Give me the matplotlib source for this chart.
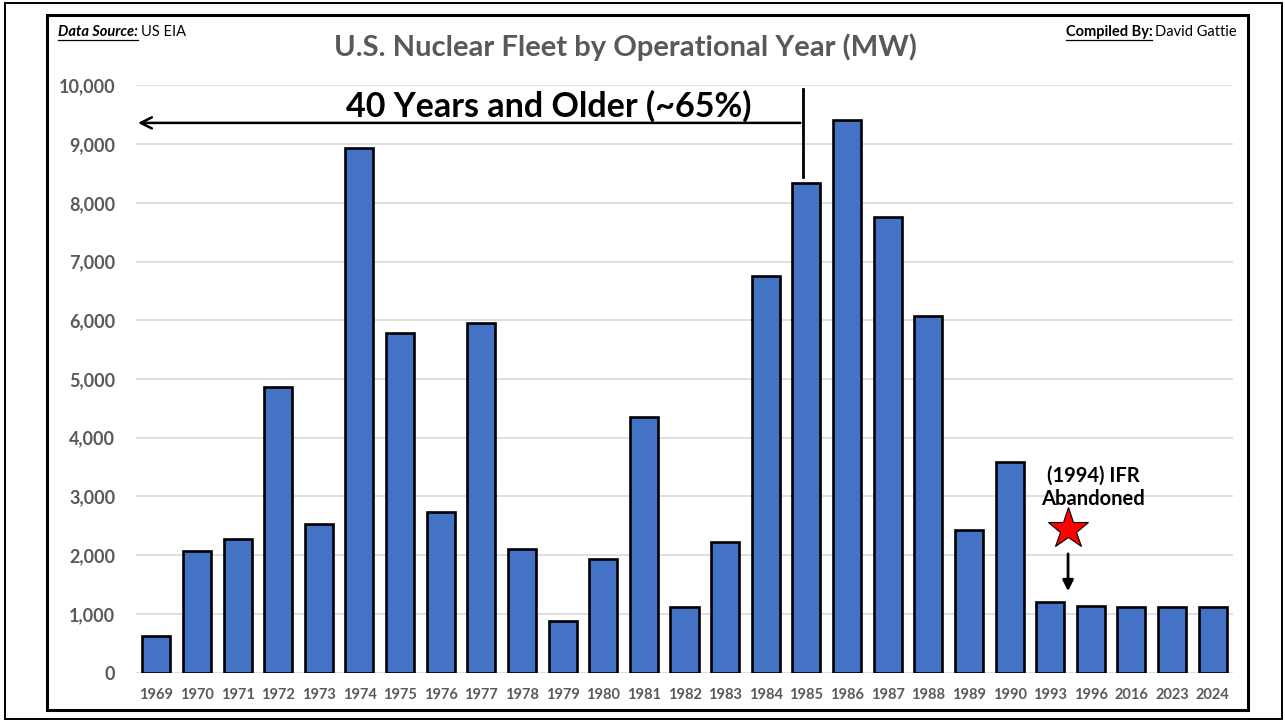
import matplotlib
matplotlib.use("Agg")
import matplotlib.pyplot as plt
from matplotlib.patches import Rectangle
from matplotlib.lines import Line2D
from matplotlib.ticker import FuncFormatter, MultipleLocator

# ---------------- data (MW entering operation per year) ----------------
years = ['1969', '1970', '1971', '1972', '1973', '1974', '1975', '1976', '1977',
         '1978', '1979', '1980', '1981', '1982', '1983', '1984', '1985', '1986',
         '1987', '1988', '1989', '1990', '1993', '1996', '2016', '2023', '2024']
capacity_mw = [625, 2080, 2270, 4860, 2540, 8930, 5780, 2740, 5960,
               2110, 880, 1940, 4350, 1120, 2230, 6750, 8340, 9410,
               7760, 6080, 2430, 3580, 1200, 1130, 1120, 1115, 1115]

title = "U.S. Nuclear Fleet by Operational Year (MW)"
older_label = "40 Years and Older (~65%)"
ifr_label = "(1994) IFR\nAbandoned"

W, H = 1285, 721
FONT = ['Lato', 'DejaVu Sans']
GRAY = '#595959'
BLUE = '#4472C4'

plt.rcParams['font.family'] = FONT

fig = plt.figure(figsize=(W / 100, H / 100), dpi=100)


def fx(px):
    return px / W


def fy(py):
    return 1 - py / H


# plot area in pixel terms
left, right, top, bottom = 136, 1233, 85.3, 672.7
ax = fig.add_axes([fx(left), fy(bottom), fx(right - left), (bottom - top) / H])

x = list(range(len(years)))
ax.bar(x, capacity_mw, width=0.69, color=BLUE, edgecolor='black', linewidth=1.9, zorder=3)

ax.set_xlim(-0.5, len(years) - 0.5)
ax.set_ylim(0, 10000)
ax.yaxis.set_major_locator(MultipleLocator(1000))
ax.yaxis.set_major_formatter(FuncFormatter(lambda v, p: f"{int(v):,}"))
ax.grid(axis='y', color='#D9D9D9', linewidth=1.2, zorder=0)
ax.set_xticks(x)
ax.set_xticklabels(years)
for s in ax.spines.values():
    s.set_visible(False)
ax.tick_params(axis='both', length=0)
ax.tick_params(axis='y', pad=15, labelsize=13, labelcolor=GRAY)
ax.tick_params(axis='x', pad=11, labelsize=10.5, labelcolor=GRAY)
for lab in ax.get_xticklabels() + ax.get_yticklabels():
    lab.set_fontweight('bold')

# 40-year bracket: vertical marker at 1985 and arrow pointing left
ax.plot([15.92, 15.92], [8440, 9940], color='black', lw=2, clip_on=False, zorder=4)
ax.annotate('', xy=(-0.52, 9360), xytext=(15.92, 9360),
            arrowprops=dict(arrowstyle='->', color='black', lw=1.8, mutation_scale=20),
            annotation_clip=False, zorder=4)
ax.text(9.65, 9650, older_label, ha='center', va='center', fontsize=24.5,
        fontweight='bold', color='black', zorder=5)

# IFR note
ax.text(23.06, 3160, ifr_label, ha='center', va='center', fontsize=14.5,
        fontweight='bold', color='black', linespacing=1.2, zorder=5)
ax.plot([22.44], [2440], marker='*', markersize=31, color='red',
        markeredgecolor='black', markeredgewidth=0.8, clip_on=False, zorder=5)
ax.annotate('', xy=(22.44, 1340), xytext=(22.44, 2070),
            arrowprops=dict(arrowstyle='-|>', color='black', lw=2, mutation_scale=16),
            zorder=5)

# title
fig.text(fx(625), fy(47), title, ha='center', va='center', fontsize=21,
         fontweight='bold', color=GRAY)

# frames
fig.add_artist(Rectangle((fx(47), fy(710)), fx(1248 - 47), (710 - 15) / H,
                         transform=fig.transFigure, fill=False, ec='black', lw=2.2))
fig.add_artist(Rectangle((fx(5), fy(719)), fx(1282 - 5), (719 - 3) / H,
                         transform=fig.transFigure, fill=False, ec='black', lw=1.4))

# corner credits with underlined lead-ins
renderer = fig.canvas.get_renderer()
note_size = 10.5


def underline(txt):
    bb = txt.get_window_extent(renderer)
    y = bb.y0 - 0.5
    fig.add_artist(Line2D([bb.x0 / W, bb.x1 / W], [y / H, y / H],
                          transform=fig.transFigure, color='black', lw=0.9))
    return bb


t1 = fig.text(fx(58), fy(32), "Data Source:", ha='left', va='center',
              fontsize=note_size, fontweight='bold', fontstyle='italic')
bb1 = underline(t1)
fig.text((bb1.x1 + 3) / W, fy(32), "US EIA", ha='left', va='center', fontsize=note_size)

t2 = fig.text(fx(1237), fy(32), "David Gattie", ha='right', va='center', fontsize=note_size)
bb2 = t2.get_window_extent(renderer)
t3 = fig.text((bb2.x0 - 3) / W, fy(32), "Compiled By:", ha='right', va='center',
              fontsize=note_size, fontweight='bold')
underline(t3)

fig.savefig("out.png", dpi=100)
